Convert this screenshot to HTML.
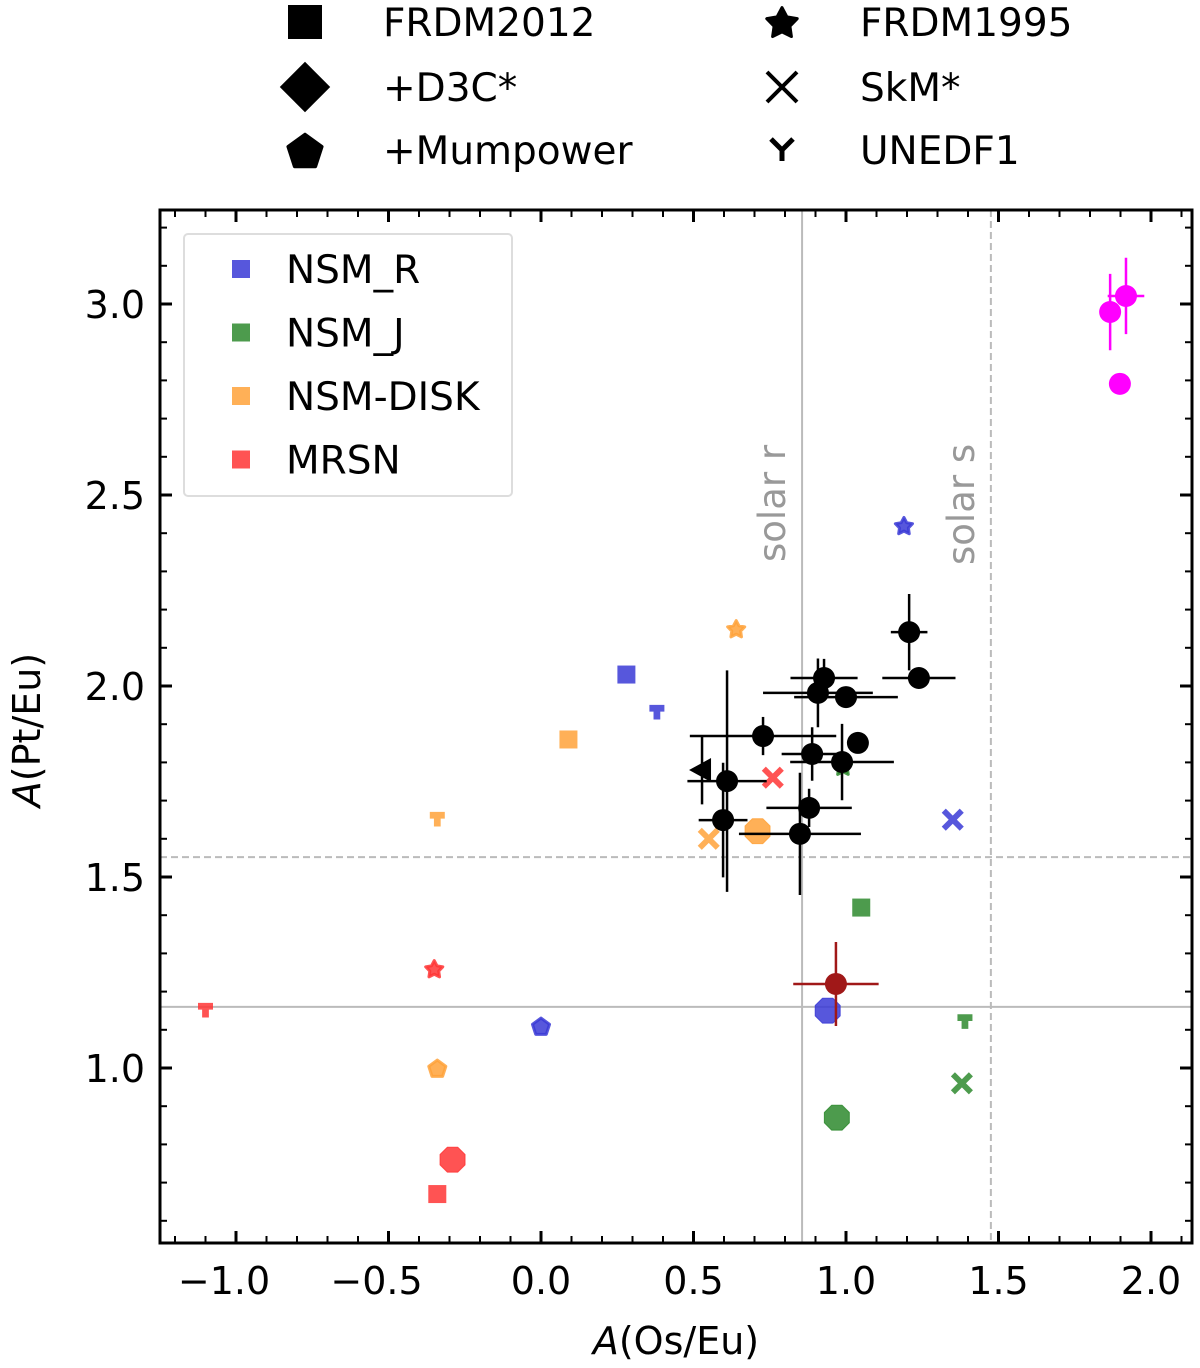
<!DOCTYPE html>
<html><head><meta charset="utf-8"><style>
body{margin:0;background:#fff;}
svg{display:block;font-family:"DejaVu Sans","Liberation Sans",sans-serif;}
</style></head><body>
<svg id="chart" width="1200" height="1368" viewBox="0 0 1200 1368" xmlns="http://www.w3.org/2000/svg"></svg>
<script>
// ---- data ----
const modelNames = ["NSM_R","NSM_J","NSM-DISK","MRSN"];
const modelColors = ["#3a3ad6","#2e8a2e","#ffa23a","#ff3535"];
const modelShapes = ["sq","unedf","star","x","pent","oct"];
// x values per model for shapes [FRDM2012, UNEDF1, FRDM1995, SkM*, +Mumpower, +D3C*]
const modelX = [
  [0.28, 0.38, 1.19, 1.35, 0.00, 0.94],
  [1.05, 1.39, 0.99, 1.38, null, 0.97],
  [0.09, -0.34, 0.64, 0.55, -0.34, 0.71],
  [-0.34, -1.10, -0.35, 0.76, null, -0.29]
];
const modelY = [
  [2.03, 1.93, 2.42, 1.65, 1.11, 1.15],
  [1.42, 1.12, 1.79, 0.96, null, 0.87],
  [1.86, 1.65, 2.15, 1.60, 1.00, 1.62],
  [0.67, 1.15, 1.26, 1.76, null, 0.76]
];
const obsX = [1.207,1.239,0.928,0.908,1.000,0.728,1.039,0.889,0.987,0.610,0.597,0.879,0.849];
const obsY = [2.141,2.021,2.021,1.982,1.971,1.869,1.851,1.822,1.801,1.751,1.649,1.681,1.613];
const obsXerr = [0.06,0.12,0.11,0.18,0.17,0.24,0,0.10,0.17,0.13,0.08,0.14,0.20];
const obsYerr = [0.10,0,0.05,0.09,0,0.05,0,0.07,0.10,0.29,0.15,0.05,0.16];
const triX = [0.528], triY = [1.78], triYerr = [0.09];
const pinkX = [1.918,1.866,1.898], pinkY = [3.021,2.979,2.791];
const pinkXerr = [0.06,0.02,0], pinkYerr = [0.10,0.10,0];
const brownX = [0.967], brownY = [1.22], brownXerr = [0.14], brownYerr = [0.11];
const solarR = [0.856, 1.16];
const solarS = [1.475, 1.552];
const xTicks = [-1.0,-0.5,0.0,0.5,1.0,1.5,2.0];
const yTicks = [1.0,1.5,2.0,2.5,3.0];

// ---- axes ----
const L=160,T=210,R=1192,B=1243;
const X=v=>541+305*v;
const Y=v=>1068-(v-1)*382;
const svg=document.getElementById('chart');
const NS="http://www.w3.org/2000/svg";
function mk(tag,attrs,parent){const e=document.createElementNS(NS,tag);for(const k in attrs)e.setAttribute(k,attrs[k]);(parent||svg).appendChild(e);return e;}
function fmt(v){return (v<0?"\u2212":"")+Math.abs(v).toFixed(1);}

function shape(kind,cx,cy,s,fill,parent,opacity){
  let e;
  const op=opacity==null?1:opacity;
  if(kind==="sq"){e=mk('rect',{x:cx-s/2,y:cy-s/2,width:s,height:s,fill:fill,'fill-opacity':op},parent);}
  else if(kind==="diamond"){e=mk('polygon',{points:`${cx},${cy-s*0.7} ${cx+s*0.7},${cy} ${cx},${cy+s*0.7} ${cx-s*0.7},${cy}`,fill:fill,'fill-opacity':op},parent);}
  else if(kind==="oct"||kind==="pent"||kind==="star"){
    let pts=[];
    if(kind==="oct"){for(let i=0;i<8;i++){const a=Math.PI/8+i*Math.PI/4;pts.push([cx+s/2*Math.cos(a),cy+s/2*Math.sin(a)]);}}
    else if(kind==="pent"){for(let i=0;i<5;i++){const a=-Math.PI/2+i*2*Math.PI/5;pts.push([cx+s/2*Math.cos(a),cy+s/2*Math.sin(a)+s*0.06]);}}
    else {for(let i=0;i<10;i++){const a=-Math.PI/2+i*Math.PI/5;const r=i%2?s*0.26:s/2;pts.push([cx+r*Math.cos(a),cy+r*Math.sin(a)+s*0.05]);}}
    e=mk('polygon',{points:pts.map(p=>p.join(',')).join(' '),fill:fill,'fill-opacity':op,stroke:fill,'stroke-opacity':op,'stroke-width':kind==="oct"?1:3,'stroke-linejoin':'round'},parent);
  }
  else if(kind==="x"){const h=s/2;e=mk('path',{d:`M${cx-h},${cy-h}L${cx+h},${cy+h}M${cx-h},${cy+h}L${cx+h},${cy-h}`,stroke:fill,'stroke-opacity':op,'stroke-width':s*0.32,fill:'none'},parent);}
  else if(kind==="unedf"){e=mk('path',{d:`M${cx-s/2},${cy-s*0.3}L${cx+s/2},${cy-s*0.3}M${cx},${cy-s*0.3}L${cx},${cy+s*0.45}`,stroke:fill,'stroke-opacity':op,'stroke-width':s*0.45,fill:'none'},parent);}
  else if(kind==="ylegend"){e=mk('path',{d:`M${cx-s/2},${cy-s/2}L${cx},${cy}L${cx+s/2},${cy-s/2}M${cx},${cy}L${cx},${cy+s/2}`,stroke:fill,'stroke-width':5,fill:'none'},parent);}
  return e;
}

// top legend
const topLeg=mk('g',{});


const topItems=[["sq","FRDM2012",305,22,34],["diamond","+D3C*",305,87,36],["pent","+Mumpower",305,150,36],["star","FRDM1995",782,22,32],["x","SkM*",782,87,30],["ylegend","UNEDF1",782,150,22]];
topItems.forEach(it=>{
  const g=mk('g',{},topLeg);
  
  
  const s=shape(it[0],it[2],it[3],it[4],'#000',g);
  if(it[0]==="x") s.setAttribute('stroke-width',4);
  const t=mk('text',{x:it[2]+78,y:it[3]+14,'font-size':39,fill:'#000'},g);t.textContent=it[1];
});

// reference lines
const refs=mk('g',{});


mk('line',{x1:X(solarR[0]),x2:X(solarR[0]),y1:T,y2:B,stroke:'#bbb','stroke-width':2},refs);
mk('line',{x1:L,x2:R,y1:Y(solarR[1]),y2:Y(solarR[1]),stroke:'#bbb','stroke-width':2},refs);
mk('line',{x1:X(solarS[0]),x2:X(solarS[0]),y1:T,y2:B,stroke:'#bbb','stroke-width':2,'stroke-dasharray':'7,4'},refs);
mk('line',{x1:L,x2:R,y1:Y(solarS[1]),y2:Y(solarS[1]),stroke:'#bbb','stroke-width':2,'stroke-dasharray':'7,4'},refs);
let t1=mk('text',{x:0,y:0,'font-size':37,fill:'#999',transform:`translate(${X(solarR[0])-17},562) rotate(-90)`},refs);t1.textContent="solar r";

let t2=mk('text',{x:0,y:0,'font-size':37,fill:'#999',transform:`translate(${X(solarS[0])-17},565) rotate(-90)`},refs);t2.textContent="solar s";


// model points
const sizes={sq:18,unedf:15,star:18,x:18,pent:18,oct:27};
modelNames.forEach((nm,i)=>{
  const g=mk('g',{});
  
  
  modelShapes.forEach((sh,j)=>{
    if(modelX[i][j]==null) return;
    const e=shape(sh,X(modelX[i][j]),Y(modelY[i][j]),sizes[sh],modelColors[i],g,0.85);
    
    
  });
});

function errPoints(xs,ys,xe,ye,color,name,r,kind){
  const g=mk('g',{});
  
  
  xs.forEach((v,i)=>{
    const cx=X(v),cy=Y(ys[i]);
    if(xe&&xe[i]) mk('line',{x1:X(v-xe[i]),x2:X(v+xe[i]),y1:cy,y2:cy,stroke:color,'stroke-width':2.5},g);
    if(ye&&ye[i]) mk('line',{x1:cx,x2:cx,y1:Y(ys[i]-ye[i]),y2:Y(ys[i]+ye[i]),stroke:color,'stroke-width':2.5},g);
    let e;
    if(kind==="tri") e=mk('polygon',{points:`${cx-13},${cy} ${cx+9},${cy-12} ${cx+9},${cy+12}`,fill:color},g);
    else e=mk('circle',{cx:cx,cy:cy,r:r,fill:color},g);
    
    
  });
}
errPoints(obsX,obsY,obsXerr,obsYerr,'#000','observed-stars',11);
errPoints(triX,triY,null,triYerr,'#000','observed-limit',11,'tri');
errPoints(pinkX,pinkY,pinkXerr,pinkYerr,'#ff00ff','magenta-stars',11);
errPoints(brownX,brownY,brownXerr,brownYerr,'#a01818','brown-star',11);

// inner legend
const lg=mk('g',{});


mk('rect',{x:184,y:234,width:328,height:262,rx:4,fill:'#fff','fill-opacity':0.8,stroke:'#ddd','stroke-width':2},lg);
modelNames.forEach((nm,i)=>{
  const yy=269+i*63.5;
  const g=mk('g',{},lg);
  
  
  mk('rect',{x:232,y:yy-9,width:18,height:18,fill:modelColors[i],'fill-opacity':0.85},g);
  const t=mk('text',{x:286,y:yy+14,'font-size':39,fill:'#000'},g);t.textContent=nm;
});

// frame and ticks
const ax=mk('g',{});


mk('rect',{x:L,y:T,width:R-L,height:B-T,fill:'none',stroke:'#000','stroke-width':3},ax);
for(let k=-12;k<=21;k++){const v=k/10;const px=X(v);if(px<L||px>R)continue;const maj=Math.abs(k%5)===0;const len=maj?12:7;
  mk('line',{x1:px,x2:px,y1:B,y2:B-len,stroke:'#000','stroke-width':maj?3:2},ax);
  mk('line',{x1:px,x2:px,y1:T,y2:T+len,stroke:'#000','stroke-width':maj?3:2},ax);}
for(let k=6;k<=32;k++){const v=k/10;const py=Y(v);if(py<T||py>B)continue;const maj=k%5===0;const len=maj?12:7;
  mk('line',{x1:L,x2:L+len,y1:py,y2:py,stroke:'#000','stroke-width':maj?3:2},ax);
  mk('line',{x1:R,x2:R-len,y1:py,y2:py,stroke:'#000','stroke-width':maj?3:2},ax);}
xTicks.forEach(v=>{const t=mk('text',{x:X(v)-(v<0?12:0),y:1294,'font-size':38,'text-anchor':'middle',fill:'#000'},ax);t.textContent=fmt(v);
  });
yTicks.forEach(v=>{const t=mk('text',{x:145,y:Y(v)+14,'font-size':38,'text-anchor':'end',fill:'#000'},ax);t.textContent=fmt(v);
  });
const xt=mk('text',{x:676,y:1354,'font-size':38,'text-anchor':'middle',fill:'#000'});
xt.innerHTML='<tspan font-style="italic">A</tspan>(Os/Eu)';

const yt=mk('text',{x:0,y:0,'font-size':38,'text-anchor':'middle',fill:'#000',transform:'translate(40,730) rotate(-90)'});
yt.innerHTML='<tspan font-style="italic">A</tspan>(Pt/Eu)';

</script>
</body></html>
